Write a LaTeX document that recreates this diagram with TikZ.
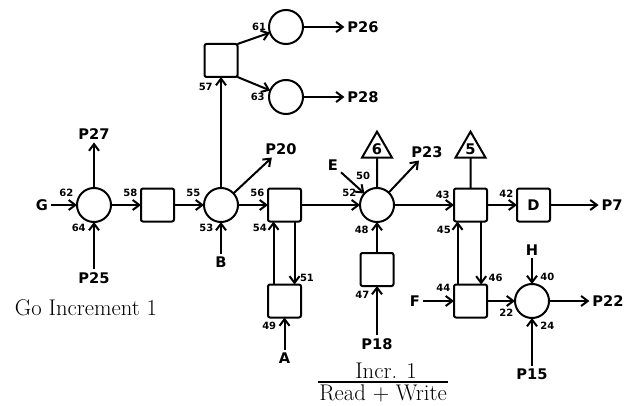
\documentclass[tikz,border=0pt]{standalone}
\usepackage{fontspec}
\setsansfont{DejaVu Sans}
\usetikzlibrary{positioning,arrows.meta,shapes.geometric}

\begin{document}
\begin{tikzpicture}[
		x=0.75pt, y=-0.75pt,
		node distance=22.5pt,
		line width=1.5pt,
		>={Straight Barb[length=5pt,width=7.5pt]},
		pl/.style={draw, circle, minimum size=25.5pt, inner sep=0pt, outer sep=0pt},
		tr/.style={draw, rounded corners=1.5pt, minimum size=24.75pt, inner sep=0pt, outer sep=0pt,
			font=\sffamily\bfseries\fontsize{11}{13}\selectfont},
		tri/.style={draw, regular polygon, regular polygon sides=3, minimum size=26pt,
			inner sep=0pt, outer sep=0pt, font=\sffamily\bfseries\fontsize{11}{13}\selectfont},
		term/.style={inner sep=1.5pt, font=\sffamily\bfseries\fontsize{11}{13}\selectfont},
		num/.style={inner sep=0.5pt, font=\sffamily\bfseries\fontsize{7.5}{8}\selectfont},
		captext/.style={inner sep=0pt, font=\fontsize{17}{19}\selectfont}
		]
		
		\useasboundingbox (0,0) rectangle (627,406);
		
		% main row
		\node[pl] (c62) at (94,205) {};
		\node[tr] (b58) [right=of c62] {};
		\node[pl] (c55) [right=of b58] {};
		\node[tr] (b56) [right=of c55] {};
		\node[pl] (c52) [right=44.25pt of b56] {};
		\node[tr] (b43) [right=45pt of c52] {};
		\node[tr] (bD) [right=of b43] {D};
		
		\node[tr] (b57) [above=83.25pt of c55] {};
		\node[pl] (c61) at (286,27) {};
		\node[pl] (c63) at (286,97) {};
		
		\node[tr] (b49) [below=47.25pt of b56] {};
		\node[tr] (b47) [below=23.25pt of c52] {};
		\node[tr] (b44) [below=47.25pt of b43] {};
		\node[pl] (c40) [right=21pt of b44] {};
		
		\node[tri] (t6) at (377,149) {6};
		\node[tri] (t5) at (470.5,149) {5};
		
		% inputs and outputs
		\node[term] (G) at (42,205) {G};
		\node[term] (P27) at (94,134) {P27};
		\node[term] (P25) at (94,278) {P25};
		\node[term] (B) at (221,262) {B};
		\node[term] (P20) at (281,149) {P20};
		\node[term] (P26) at (363,27) {P26};
		\node[term] (P28) at (363,97) {P28};
		\node[term] (A) at (284.5,358) {A};
		\node[term] (E) at (333,165) {E};
		\node[term] (P23) at (427,152) {P23};
		\node[term] (P18) at (377,344) {P18};
		\node[term] (P7) at (612,205) {P7};
		\node[term] (F) at (415,301) {F};
		\node[term] (H) at (532,250) {H};
		\node[term] (P15) at (532,374) {P15};
		\node[term] (P22) at (608,301) {P22};
		
		\coordinate (u54) at ([xshift=-8.25pt]b56.south);
		\coordinate (d51) at ([xshift=7.5pt]b56.south);
		\coordinate (u45) at ([xshift=-9.75pt]b43.south);
		\coordinate (d46) at ([xshift=8pt]b43.south);
		
		\draw[->] (G) -- (c62);
		\draw[->] (c62) -- (P27);
		\draw[->] (P25) -- (c62);
		\draw[->] (c62) -- (b58);
		\draw[->] (b58) -- (c55);
		\draw[->] (B) -- (c55);
		\draw[->] (c55) -- (P20);
		\draw[->] (c55) -- (b57);
		\draw[->] (b57.north east) -- (c61);
		\draw[->] (b57.south east) -- (c63);
		\draw[->] (c61) -- (P26);
		\draw[->] (c63) -- (P28);
		\draw[->] (c55) -- (b56);
		\draw[->] (u54 |- b49.north) -- (u54);
		\draw[->] (d51) -- (d51 |- b49.north);
		\draw[->] (A) -- (b49);
		\draw[->] (b56) -- (c52);
		\draw[->] (E) -- (c52);
		\draw (t6) -- (c52);
		\draw[->] (c52) -- (P23);
		\draw[->] (b47) -- (c52);
		\draw[->] (P18) -- (b47);
		\draw[->] (c52) -- (b43);
		\draw (t5) -- (b43);
		\draw[->] (b43) -- (bD);
		\draw[->] (bD) -- (P7);
		\draw[->] (u45 |- b44.north) -- (u45);
		\draw[->] (d46) -- (d46 |- b44.north);
		\draw[->] (F) -- (b44);
		\draw[->] (b44) -- (c40);
		\draw[->] (H) -- (c40);
		\draw[->] (P15) -- (c40);
		\draw[->] (c40) -- (P22);
		
		% arc numbers
		\node[num] (n62) [above left=5pt and 1.5pt of c62.west] {62};
		\node[num] (n64) [below left=0.5pt and 5pt of c62.south] {64};
		\node[num] (n58) [above left=5pt and 1.5pt of b58.west] {58};
		\node[num] (n55) [above left=5pt and 1.5pt of c55.west] {55};
		\node[num] (n53) [below left=0.5pt and 4.5pt of c55.south] {53};
		\node[num] (n57) [below left=3.5pt and 5pt of b57.south] {57};
		\node[num] (n61) [left=1pt of c61.west] {61};
		\node[num] (n63) [left=2pt of c63.west] {63};
		\node[num] (n56) [above left=5pt and 1.5pt of b56.west] {56};
		\node[num] (n54) [below left=1pt and 3.75pt of u54] {54};
		\node[num] (n51) [above right=1pt and -2pt of b49.north east] {51};
		\node[num] (n49) [below left=2.5pt and 5pt of b49.south] {49};
		\node[num] (n52) [above left=5pt and 1.5pt of c52.west] {52};
		\node[num] (n50) [above left=9pt and -5pt of c52.north west] {50};
		\node[num] (n48) [below left=2pt and 5pt of c52.south] {48};
		\node[num] (n47) [below left=3pt and 4.5pt of b47.south] {47};
		\node[num] (n43) [above left=3.5pt and 2pt of b43.west] {43};
		\node[num] (n45) [below left=2pt and 3.75pt of u45] {45};
		\node[num] (n42) [above left=4.5pt and 1.5pt of bD.west] {42};
		\node[num] (n44) [above left=6pt and 1.5pt of b44.west] {44};
		\node[num] (n46) [above right=1pt and 0pt of b44.north east] {46};
		\node[num] (n22) [below left=5pt and 0pt of c40.west] {22};
		\node[num] (n24) [below right=1.5pt and 5pt of c40.south] {24};
		\node[num] (n40) [above right=1.5pt and 5pt of c40.north] {40};
		
		% captions
		\node[captext] (go) at (86,308) {Go Increment 1};
		\node[captext] (incr) at (386,371) {Incr. 1};
		\node[captext] (rw) at (383,393) {Read + Write};
		\draw[line width=1pt] ([yshift=1pt]rw.north west) -- ([yshift=1pt]rw.north east);
		
	\end{tikzpicture}
\end{document}
